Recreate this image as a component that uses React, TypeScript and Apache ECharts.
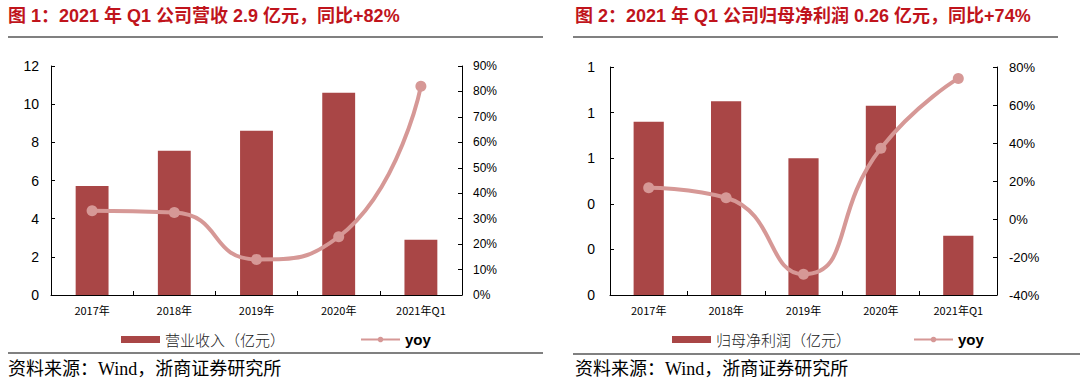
import React, { useEffect, useRef } from "react";
import * as echarts from "echarts";

const categories = ["2017年", "2018年", "2019年", "2020年", "2021年Q1"];
const revenue = [5.71, 7.56, 8.61, 10.6, 2.9];
const revenueYoy = [33.1, 32.4, 14.0, 22.9, 82.0];
const netProfit = [0.76, 0.85, 0.6, 0.83, 0.26];
const netProfitYoy = [16.5, 11.2, -29.1, 37.2, 74.0];

const revenueName = "营业收入（亿元）";
const profitName = "归母净利润（亿元）";
const yoyName = "yoy";

const title1 = "图 1：2021 年 Q1 公司营收 2.9 亿元，同比+82%";
const title2 = "图 2：2021 年 Q1 公司归母净利润 0.26 亿元，同比+74%";
const sourceText = "资料来源：Wind，浙商证券研究所";

const BAR = "#A94646";
const LINE = "#D69896";
const RED = "#C0141C";
const SANS = "'Liberation Sans', 'Noto Sans CJK SC', sans-serif";
const CJK = "'Noto Sans CJK SC', sans-serif";
const SERIF = "'Liberation Serif', 'Noto Sans CJK SC', serif";

export default function App() {
  const ref = useRef<HTMLDivElement>(null);
  useEffect(() => {
    document.body.style.margin = "0";
    if (!ref.current) return;
    const chart = echarts.init(ref.current, null, { renderer: "svg" });
    const axisLine = { show: true, lineStyle: { color: "#000", width: 1 } };
    const tick = { show: true, inside: true, length: 4, lineStyle: { color: "#000" } };
    const xAxisCommon = {
      type: "category",
      data: categories,
      axisLine,
      axisTick: tick,
      axisLabel: { color: "#000", fontSize: 11, margin: 9, fontFamily: CJK },
      splitLine: { show: false },
    };
    const legendText = {
      fontSize: 15, color: "#222", fontFamily: CJK, fontWeight: 300,
    };
    const yoyLegend = {
      name: yoyName,
      textStyle: { fontSize: 15, color: "#000", fontFamily: SANS, fontWeight: "bold" },
    };
    chart.setOption({
      animation: false,
      backgroundColor: "#fff",
      grid: [
        { left: 51, top: 66, width: 411, height: 229 },
        { left: 610, top: 67, width: 387, height: 228 },
      ],
      xAxis: [
        { ...xAxisCommon, gridIndex: 0 },
        { ...xAxisCommon, gridIndex: 1 },
      ],
      yAxis: [
        {
          type: "value", gridIndex: 0, min: 0, max: 12, interval: 2, position: "left",
          axisLine, axisTick: tick, splitLine: { show: false },
          axisLabel: { color: "#000", fontSize: 14, margin: 12, fontFamily: SANS },
        },
        {
          type: "value", gridIndex: 0, min: 0, max: 90, interval: 10, position: "right",
          axisLine, axisTick: tick, splitLine: { show: false },
          axisLabel: { color: "#000", fontSize: 12, margin: 11, fontFamily: SANS, formatter: "{value}%" },
        },
        {
          type: "value", gridIndex: 1, min: 0, max: 1, interval: 0.2, position: "left",
          axisLine, axisTick: tick, splitLine: { show: false },
          axisLabel: {
            color: "#000", fontSize: 14, margin: 15, fontFamily: SANS,
            formatter: (v: number) => String(Math.round(v)),
          },
        },
        {
          type: "value", gridIndex: 1, min: -40, max: 80, interval: 20, position: "right",
          axisLine, axisTick: tick, splitLine: { show: false },
          axisLabel: { color: "#000", fontSize: 13, margin: 12, fontFamily: SANS, formatter: "{value}%" },
        },
      ],
      legend: [
        {
          left: 116, top: 327, itemWidth: 39, itemHeight: 7, itemGap: 75,
          data: [{ name: revenueName, icon: "rect" }, yoyLegend],
          textStyle: legendText,
          selectedMode: false,
        },
        {
          left: 667, top: 327, itemWidth: 39, itemHeight: 7, itemGap: 62,
          data: [{ name: profitName, icon: "rect" }, yoyLegend],
          textStyle: legendText,
          selectedMode: false,
        },
      ],
      series: [
        {
          name: revenueName, type: "bar", xAxisIndex: 0, yAxisIndex: 0, data: revenue,
          barWidth: "40%", itemStyle: { color: BAR },
        },
        {
          name: yoyName, type: "line", xAxisIndex: 0, yAxisIndex: 1, data: revenueYoy,
          smooth: 0.55, symbol: "circle", symbolSize: 11,
          lineStyle: { color: LINE, width: 4 }, itemStyle: { color: LINE },
        },
        {
          name: profitName, type: "bar", xAxisIndex: 1, yAxisIndex: 2, data: netProfit,
          barWidth: "39%", itemStyle: { color: BAR },
        },
        {
          name: yoyName, type: "line", xAxisIndex: 1, yAxisIndex: 3, data: netProfitYoy,
          smooth: 0.55, symbol: "circle", symbolSize: 11,
          lineStyle: { color: LINE, width: 4 }, itemStyle: { color: LINE },
        },
      ],
      graphic: [
        {
          type: "text", left: 8, top: 7,
          style: { text: title1, fill: RED, fontSize: 18, fontWeight: "bold", fontFamily: SANS },
        },
        {
          type: "text", left: 575, top: 7,
          style: { text: title2, fill: RED, fontSize: 18, fontWeight: "bold", fontFamily: SANS },
        },
        { type: "line", shape: { x1: 8, y1: 37, x2: 543, y2: 37 }, style: { stroke: "#808080", lineWidth: 2 } },
        { type: "line", shape: { x1: 573, y1: 37, x2: 1058, y2: 37 }, style: { stroke: "#808080", lineWidth: 2 } },
        { type: "line", shape: { x1: 8, y1: 353, x2: 543, y2: 353 }, style: { stroke: "#808080", lineWidth: 2 } },
        { type: "line", shape: { x1: 573, y1: 354, x2: 1080, y2: 354 }, style: { stroke: "#808080", lineWidth: 2 } },
        {
          type: "text", left: 8, top: 360,
          style: { text: sourceText, fill: "#000", fontSize: 18, fontFamily: SERIF },
        },
        {
          type: "text", left: 575, top: 360,
          style: { text: sourceText, fill: "#000", fontSize: 18, fontFamily: SERIF },
        },
      ],
    });
    return () => chart.dispose();
  }, []);
  return <div ref={ref} style={{ width: 1080, height: 388 }} />;
}
